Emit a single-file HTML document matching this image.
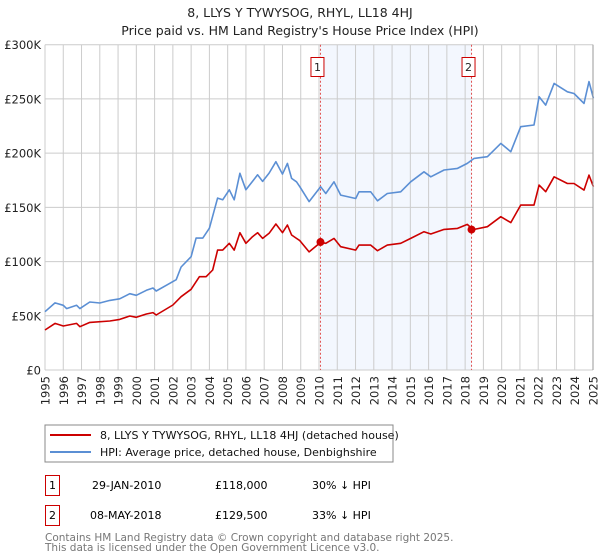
<!DOCTYPE html>
<html><head><meta charset="utf-8"><style>
body{margin:0;background:#fff;font-family:"Liberation Sans","DejaVu Sans",sans-serif;}
#wrap{position:relative;width:600px;height:560px;overflow:hidden;}
</style></head><body>
<div id="wrap">
<svg id="chart" width="600" height="560" xmlns="http://www.w3.org/2000/svg" font-family="DejaVu Sans, Liberation Sans, sans-serif">
<text x="300" y="17" text-anchor="middle" font-size="12.5" fill="#222">8, LLYS Y TYWYSOG, RHYL, LL18 4HJ</text>
<text x="300" y="35" text-anchor="middle" font-size="12.5" fill="#222">Price paid vs. HM Land Registry's House Price Index (HPI)</text>
<g id="grid"></g>
<g id="series"></g>
<g id="axes"></g>
<rect x="45" y="425" width="348" height="37" fill="#fff" stroke="#888"/>
<line x1="50" y1="435" x2="91" y2="435" stroke="#cc0000" stroke-width="2"/>
<text x="100" y="439" font-size="11" fill="#111">8, LLYS Y TYWYSOG, RHYL, LL18 4HJ (detached house)</text>
<line x1="50" y1="452" x2="91" y2="452" stroke="#5b8fd4" stroke-width="2"/>
<text x="100" y="456" font-size="11" fill="#111">HPI: Average price, detached house, Denbighshire</text>
<g>
<rect x="45.5" y="475.5" width="14" height="20" fill="#fff" stroke="#cc0000"/>
<text x="52.5" y="489" text-anchor="middle" font-size="11">1</text>
<text x="92" y="489" font-size="11">29-JAN-2010</text>
<text x="215" y="489" font-size="11">£118,000</text>
<text x="312" y="489" font-size="11">30% ↓ HPI</text></g>
<g>
<rect x="45.5" y="505.5" width="14" height="20" fill="#fff" stroke="#cc0000"/>
<text x="52.5" y="519" text-anchor="middle" font-size="11">2</text>
<text x="90" y="519" font-size="11">08-MAY-2018</text>
<text x="215" y="519" font-size="11">£129,500</text>
<text x="312" y="519" font-size="11">33% ↓ HPI</text></g>
<text x="45" y="541" font-size="10.5" fill="#777">Contains HM Land Registry data © Crown copyright and database right 2025.</text>
<text x="45" y="551" font-size="10.5" fill="#777">This data is licensed under the Open Government Licence v3.0.</text>
</svg></div>
<script>
const hpiYears=[1995,1995.55,1996,1996.18,1996.73,1996.91,1997.45,1998,1998.55,1999.09,1999.64,2000,2000.55,2000.91,2001.09,2001.64,2002.18,2002.45,2003,2003.27,2003.64,2004,2004.45,2004.73,2005.09,2005.36,2005.67,2006,2006.36,2006.64,2006.91,2007.27,2007.64,2008,2008.27,2008.5,2008.77,2008.95,2009.46,2010.09,2010.37,2010.82,2011.19,2012.01,2012.19,2012.83,2013.2,2013.74,2014.47,2015.02,2015.75,2016.12,2016.85,2017.58,2018.12,2018.49,2019.22,2019.95,2020.5,2021.04,2021.77,2022.05,2022.41,2022.87,2023.6,2023.96,2024.51,2024.78,2025.02];
const hpiValues=[53.8,61.9,59.7,56.6,59.7,56.6,62.7,61.8,64.2,65.7,70.4,68.9,73.5,75.6,72.9,78.1,83.3,95,104.5,121.6,121.6,130.8,158.5,157,166.2,157,181.4,166.2,173.9,180,173.9,181.6,192.1,180.7,190.5,176.7,173.6,169,155.3,169,162.8,173.6,161.3,158.2,164.3,164.3,156,162.8,164.3,173.6,182.8,178.2,184.4,185.9,190.5,195.1,196.7,209,201.3,224.4,225.9,252,244.3,264.3,256.6,255,245.9,266,250.6];
const propYears=[1995,1995.55,1996,1996.73,1996.91,1997.45,1998.55,1999.09,1999.64,2000,2000.55,2000.91,2001.09,2002,2002.45,2003,2003.45,2003.82,2004.18,2004.45,2004.73,2005.09,2005.36,2005.67,2006,2006.36,2006.64,2006.91,2007.27,2007.64,2008,2008.27,2008.5,2008.77,2008.95,2009.46,2010.09,2010.37,2010.82,2011.19,2012.01,2012.19,2012.83,2013.2,2013.74,2014.47,2015.02,2015.75,2016.12,2016.85,2017.58,2018.12,2018.43,2019.22,2019.95,2020.5,2021.04,2021.77,2022.05,2022.41,2022.87,2023.6,2023.96,2024.51,2024.78,2025.02];
const propValues=[36.9,43,40.6,43,39.9,43.9,45.2,46.7,49.8,48.6,51.6,52.9,50.7,59.9,67.6,74.4,86,86,92.2,110.6,110.6,116.8,110.6,126.6,116.8,122.9,126.6,121.4,126.1,134.6,126.6,133.7,124.5,121.4,119.3,108.9,117.7,116.8,121.4,113.7,110.6,115.2,115.2,110,115.2,116.8,121.4,127.5,125.4,129.7,130.6,134.3,129.5,132.2,141.4,135.9,152.1,152.1,170.5,164.4,178.2,172,172,165.9,179.7,169];
const saleYears=[2010.08,2018.35];
const saleValues=[118,129.5];
const saleLabels=["1","2"];
const yTicks=[0,50,100,150,200,250,300];
const yTickLabels=["£0","£50K","£100K","£150K","£200K","£250K","£300K"];
const xTicks=[1995,1996,1997,1998,1999,2000,2001,2002,2003,2004,2005,2006,2007,2008,2009,2010,2011,2012,2013,2014,2015,2016,2017,2018,2019,2020,2021,2022,2023,2024,2025];

const NS="http://www.w3.org/2000/svg";
const L=45,R=593,T=44.7,B=370;
const xs=y=>L+(y-1995)/30*(R-L);
const ys=v=>B-v/300*(B-T);
function mk(tag,attrs,parent){const e=document.createElementNS(NS,tag);for(const k in attrs)e.setAttribute(k,attrs[k]);parent.appendChild(e);return e;}
const grid=document.getElementById('grid'),ser=document.getElementById('series'),ax=document.getElementById('axes');
let sh=mk('rect',{x:xs(saleYears[0]),y:T,width:xs(saleYears[1])-xs(saleYears[0]),height:B-T,fill:'#eef3fd',opacity:0.7},grid);


xTicks.forEach(t=>{
  const l=mk('line',{x1:xs(t),x2:xs(t),y1:T,y2:B,stroke:'#ccc','stroke-width':1},grid);
  
  
  const tx=mk('text',{transform:`translate(${xs(t)+4.5},${B+6}) rotate(-90)`,'text-anchor':'end','font-size':11.5,fill:'#222'},ax);
  tx.textContent=t;
  
  
});
yTicks.forEach((t,i)=>{
  const l=mk('line',{x1:L,x2:R,y1:ys(t),y2:ys(t),stroke:'#ccc','stroke-width':1},grid);
  
  
  const tx=mk('text',{x:41,y:ys(t)+4.5,'text-anchor':'end','font-size':11.5,fill:'#222'},ax);
  tx.textContent=yTickLabels[i];
  
  
});
saleYears.forEach((y,i)=>{
  const l=mk('line',{x1:xs(y),x2:xs(y),y1:T,y2:B,stroke:'#e05050','stroke-width':1,'stroke-dasharray':'2,2'},grid);
  
  
  const g=mk('g',{},ax);
  
  
  mk('rect',{x:xs(y)-9.5,y:57.5,width:13,height:19,fill:'#fff',stroke:'#cc0000'},g);
  const tx=mk('text',{x:xs(y)-3,y:71,'text-anchor':'middle','font-size':11,fill:'#222'},g);
  tx.textContent=saleLabels[i];
});
function path(xa,va,color,name){
  const d=xa.map((y,i)=>(i?'L':'M')+xs(y).toFixed(1)+','+ys(va[i]).toFixed(1)).join('');
  const p=mk('path',{d:d,fill:'none',stroke:color,'stroke-width':1.6,'stroke-linejoin':'round'},ser);
  
  
}
path(hpiYears,hpiValues,'#5b8fd4','hpi-line');
path(propYears,propValues,'#cc0000','property-price-line');
saleYears.forEach((y,i)=>{
  const c=mk('circle',{cx:xs(y),cy:ys(saleValues[i]),r:4,fill:'#cc0000'},ser);
  
  
});
const rl=mk('line',{x1:R,x2:R,y1:T,y2:B,stroke:'#999','stroke-width':1},ax);


</script>
</body></html>
